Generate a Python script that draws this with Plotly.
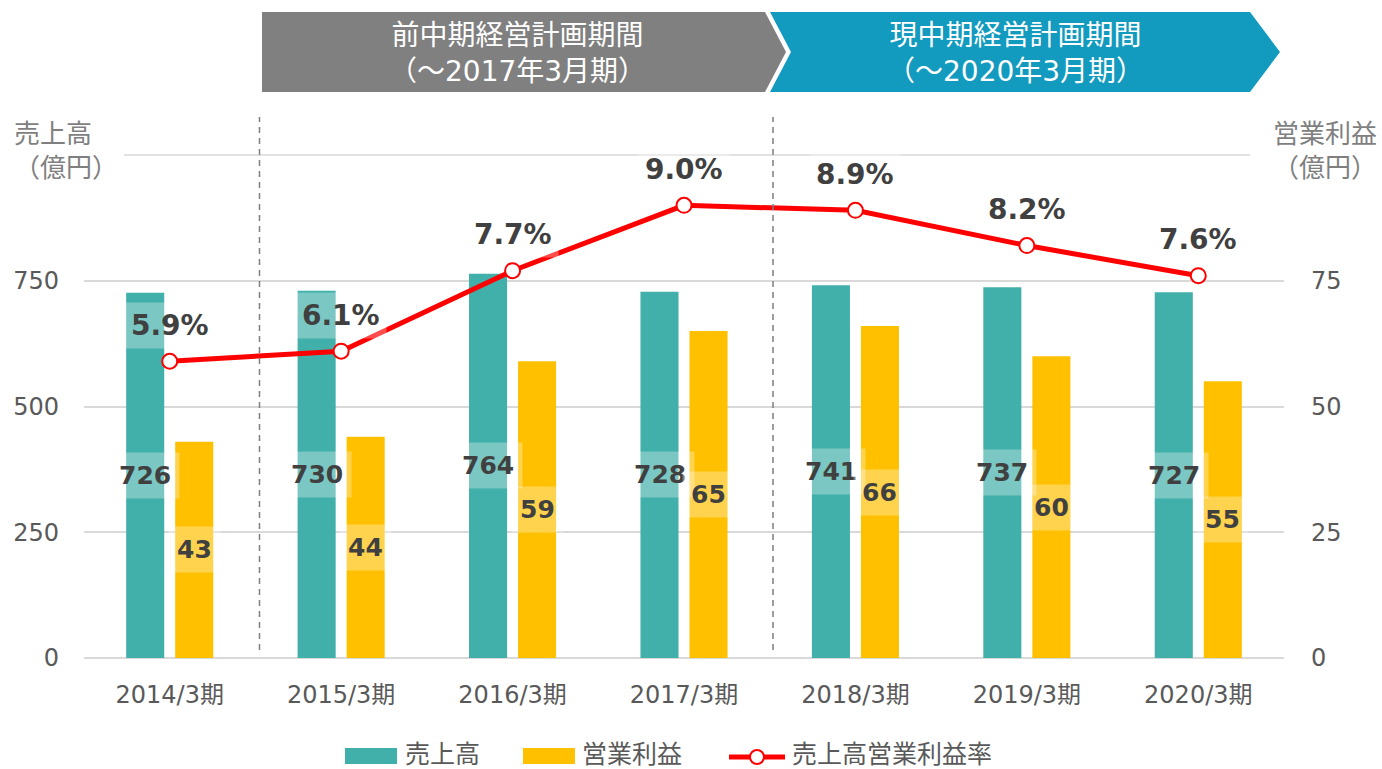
import plotly.graph_objects as go

# ---- data ----
categories = ["2014/3期", "2015/3期", "2016/3期", "2017/3期", "2018/3期", "2019/3期", "2020/3期"]
sales = [726, 730, 764, 728, 741, 737, 727]          # 売上高（億円）
op_profit = [43, 44, 59, 65, 66, 60, 55]             # 営業利益（億円）
op_margin = [5.9, 6.1, 7.7, 9.0, 8.9, 8.2, 7.6]      # 売上高営業利益率（%）
left_ticks = [0, 250, 500, 750]
right_ticks = [0, 25, 50, 75]

# ---- layout geometry (pixels) ----
W, H = 1382, 769
ML, MR, MT, MB = 84, 98, 155, 111
PW, PH = W - ML - MR, H - MT - MB


def px(xp):
    return (xp - ML) / PW


def py(yp):
    return (H - MB - yp) / PH


FONT = "DejaVu Sans, Noto Sans CJK JP, sans-serif"
TEAL = "#41AFAA"
YELLOW = "#FFC000"
RED = "#FF0000"
LABEL = "#404040"

fig = go.Figure()
fig.add_trace(go.Bar(x=categories, y=sales, yaxis="y", width=0.222, offset=-0.254,
                     marker=dict(color=TEAL, line=dict(width=0)), name="売上高", showlegend=False))
fig.add_trace(go.Bar(x=categories, y=op_profit, yaxis="y2", width=0.222, offset=0.032,
                     marker=dict(color=YELLOW, line=dict(width=0)), name="営業利益", showlegend=False))
fig.add_trace(go.Scatter(x=categories, y=op_margin, yaxis="y3", mode="lines+markers",
                         line=dict(color=RED, width=5),
                         marker=dict(size=15, color="white", line=dict(color=RED, width=2)),
                         name="売上高営業利益率", showlegend=False))

annotations = []
for c, v in zip(categories, sales):
    annotations.append(dict(x=c, y=v / 2, xref="x", yref="y", xshift=-24.5, text=f"<b>{v}</b>",
                            showarrow=False, font=dict(size=25, color=LABEL, family=FONT),
                            bgcolor="rgba(255,255,255,0.3)", borderpad=8))
for c, v in zip(categories, op_profit):
    annotations.append(dict(x=c, y=v / 2, xref="x", yref="y2", xshift=24.5, text=f"<b>{v}</b>",
                            showarrow=False, font=dict(size=25, color=LABEL, family=FONT),
                            bgcolor="rgba(255,255,255,0.3)", borderpad=8))
for c, v in zip(categories, op_margin):
    annotations.append(dict(x=c, y=v, xref="x", yref="y3", yshift=36, text=f"<b>{v:.1f}%</b>",
                            showarrow=False, font=dict(size=28, color=LABEL, family=FONT),
                            bgcolor="rgba(255,255,255,0.3)", borderpad=6))

# axis titles
annotations.append(dict(x=px(12), y=py(151), xref="paper", yref="paper", xanchor="left", yanchor="middle",
                        text="売上高<br>（億円）", align="left", showarrow=False,
                        font=dict(size=26, color="#7F7F7F", family=FONT)))
annotations.append(dict(x=px(1379), y=py(151), xref="paper", yref="paper", xanchor="right", yanchor="middle",
                        text="営業利益<br>（億円）", align="right", showarrow=False,
                        font=dict(size=26, color="#7F7F7F", family=FONT)))

# banner texts
annotations.append(dict(x=px(517), y=py(53), xref="paper", yref="paper", xanchor="center", yanchor="middle",
                        text="前中期経営計画期間<br>（～2017年3月期）", showarrow=False,
                        font=dict(size=28, color="white", family=FONT)))
annotations.append(dict(x=px(1015), y=py(53), xref="paper", yref="paper", xanchor="center", yanchor="middle",
                        text="現中期経営計画期間<br>（～2020年3月期）", showarrow=False,
                        font=dict(size=28, color="white", family=FONT)))

# legend texts
for xl, t in [(403, "売上高"), (580, "営業利益"), (790, "売上高営業利益率")]:
    annotations.append(dict(x=px(xl), y=py(754), xref="paper", yref="paper", xanchor="left", yanchor="middle",
                            text=t, showarrow=False, font=dict(size=25, color="#595959", family=FONT)))


def path(points):
    return "M " + " L ".join(f"{px(a)},{py(b)}" for a, b in points) + " Z"


shapes = [
    # banners
    dict(type="path", xref="paper", yref="paper", line=dict(width=0), fillcolor="#808080",
         path=path([(262, 12), (765, 12), (786, 52), (765, 92), (262, 92)])),
    dict(type="path", xref="paper", yref="paper", line=dict(width=0), fillcolor="#129ABF",
         path=path([(770, 12), (1250, 12), (1280, 52), (1250, 92), (770, 92), (791, 52)])),
    # top gridline
    dict(type="line", xref="paper", yref="paper", x0=px(124), x1=px(1250), y0=1, y1=1,
         line=dict(color="#D9D9D9", width=1.5), layer="below"),
    # dashed separators
    dict(type="line", xref="paper", yref="paper", x0=px(259.5), x1=px(259.5), y0=py(650), y1=py(117),
         line=dict(color="#7F7F7F", width=1.5, dash="6px,5px")),
    dict(type="line", xref="paper", yref="paper", x0=px(773), x1=px(773), y0=py(650), y1=py(117),
         line=dict(color="#7F7F7F", width=1.5, dash="6px,5px")),
    # legend symbols
    dict(type="rect", xref="paper", yref="paper", x0=px(345), x1=px(397), y0=py(764), y1=py(748),
         line=dict(width=0), fillcolor=TEAL),
    dict(type="rect", xref="paper", yref="paper", x0=px(523), x1=px(575), y0=py(764), y1=py(748),
         line=dict(width=0), fillcolor=YELLOW),
    dict(type="line", xref="paper", yref="paper", x0=px(729), x1=px(785), y0=py(757), y1=py(757),
         line=dict(color=RED, width=5)),
    dict(type="circle", xref="paper", yref="paper", xsizemode="pixel", ysizemode="pixel",
         xanchor=px(757), yanchor=py(757), x0=-7, x1=7, y0=-7, y1=7,
         line=dict(color=RED, width=2), fillcolor="white"),
]

fig.update_layout(
    width=W, height=H,
    margin=dict(l=ML, r=MR, t=MT, b=MB, pad=0),
    paper_bgcolor="white", plot_bgcolor="white",
    font=dict(family=FONT, color="#595959"),
    barmode="overlay",
    xaxis=dict(type="category", range=[-0.5, 6.5], showgrid=False, showline=False, ticks="",
               tickfont=dict(size=24, color="#595959"), ticklabelstandoff=20),
    yaxis=dict(range=[0, 1000], tickvals=left_ticks, showgrid=True, gridcolor="#D9D9D9", gridwidth=1.5,
               zeroline=True, zerolinecolor="#D9D9D9", zerolinewidth=1.5, showline=False, ticks="",
               tickfont=dict(size=24, color="#595959"), ticklabelstandoff=24),
    yaxis2=dict(range=[0, 100], tickvals=right_ticks, overlaying="y", side="right", showgrid=False,
                zeroline=False, showline=False, ticks="",
                tickfont=dict(size=24, color="#595959"), ticklabelstandoff=26),
    yaxis3=dict(range=[0, 10], overlaying="y", visible=False),
    annotations=annotations,
    shapes=shapes,
    showlegend=False,
)

fig.write_html("out.html", config={"displayModeBar": False},
               post_script="document.body.style.margin='0';")
